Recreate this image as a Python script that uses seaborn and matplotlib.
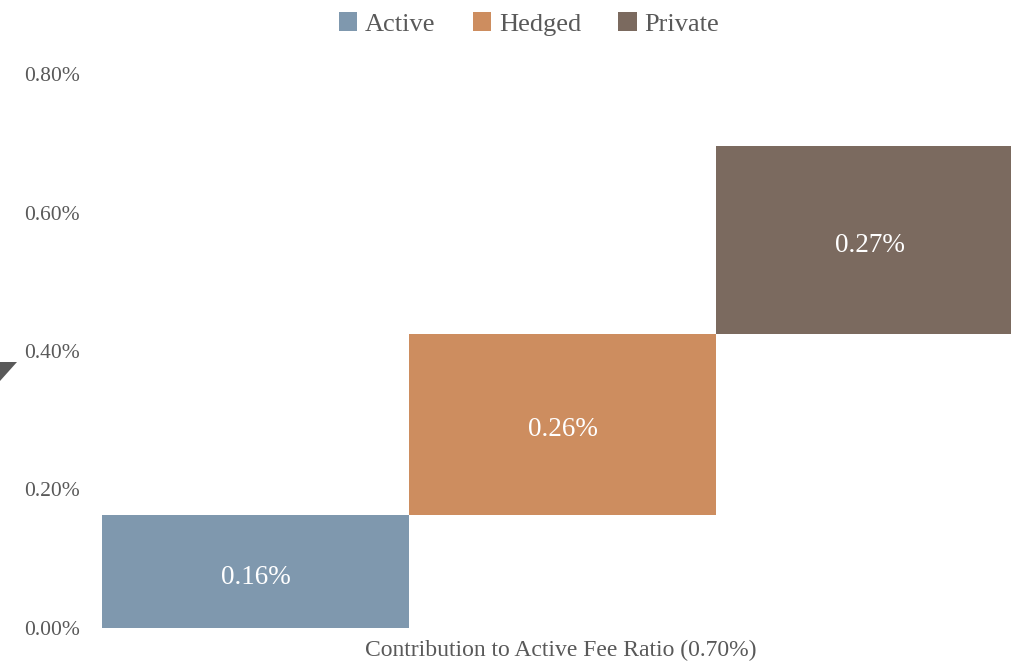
import matplotlib
matplotlib.use("Agg")
import matplotlib.pyplot as plt
import seaborn as sns
import pandas as pd
from matplotlib.patches import Patch, Polygon

categories = ["Active", "Hedged", "Private"]
values = [0.163, 0.262, 0.271]
value_labels = ["0.16%", "0.26%", "0.27%"]
colors = ["#7F98AE", "#CD8D5F", "#7B6A5F"]
yticks = [0.0, 0.2, 0.4, 0.6, 0.8]
ytick_labels = ["0.00%", "0.20%", "0.40%", "0.60%", "0.80%"]
xlabel = "Contribution to Active Fee Ratio (0.70%)"

bases = [sum(values[:i]) for i in range(len(values))]
df = pd.DataFrame({"cat": categories, "val": values, "base": bases})

sns.set_theme(style="white")
plt.rcParams["font.family"] = ["Liberation Serif", "DejaVu Serif"]
text_color = "#595959"

fig = plt.figure(figsize=(10.12, 6.62), dpi=100)
ax = fig.add_axes([102 / 1012, 1 - 628 / 662, 921 / 1012, (628 - 74) / 662])

for i, row in df.iterrows():
    sns.barplot(x=[row["cat"]], y=[row["val"]], order=categories, color=colors[i],
                bottom=row["base"], width=1.0, errorbar=None, ax=ax,
                linewidth=0, saturation=1)
    ax.annotate(value_labels[i], (i, row["base"] + row["val"] / 2), xytext=(0, -4),
                textcoords="offset points", ha="center", va="center",
                color="white", fontsize=19.5)

ax.set_xlim(-0.5, 2.5)
ax.set_ylim(0, 0.8)
ax.set_yticks(yticks)
ax.set_yticklabels(ytick_labels, fontsize=15.5, color=text_color)
ax.set_xticks([])
ax.set_xlabel(xlabel, fontsize=17, color=text_color)
ax.xaxis.set_label_coords((561 - 102) / 921, -0.021, transform=ax.transAxes)
ax.tick_params(axis="y", length=0, pad=16)
for s in ax.spines.values():
    s.set_visible(False)

handles = [Patch(facecolor=c, edgecolor="none") for c in colors]
fig.legend(handles, categories, loc="center", bbox_to_anchor=(529 / 1012, 1 - 24 / 662),
           ncol=3, frameon=False, fontsize=19, handlelength=0.7, handleheight=0.7,
           handletextpad=0.3, columnspacing=1.4, labelcolor=text_color)

tri = Polygon([[0, 1 - 362 / 662], [17 / 1012, 1 - 362 / 662], [0, 1 - 381 / 662]],
              closed=True, transform=fig.transFigure, facecolor="#595959", edgecolor="none")
fig.patches.append(tri)

fig.savefig("out.png", dpi=100)
